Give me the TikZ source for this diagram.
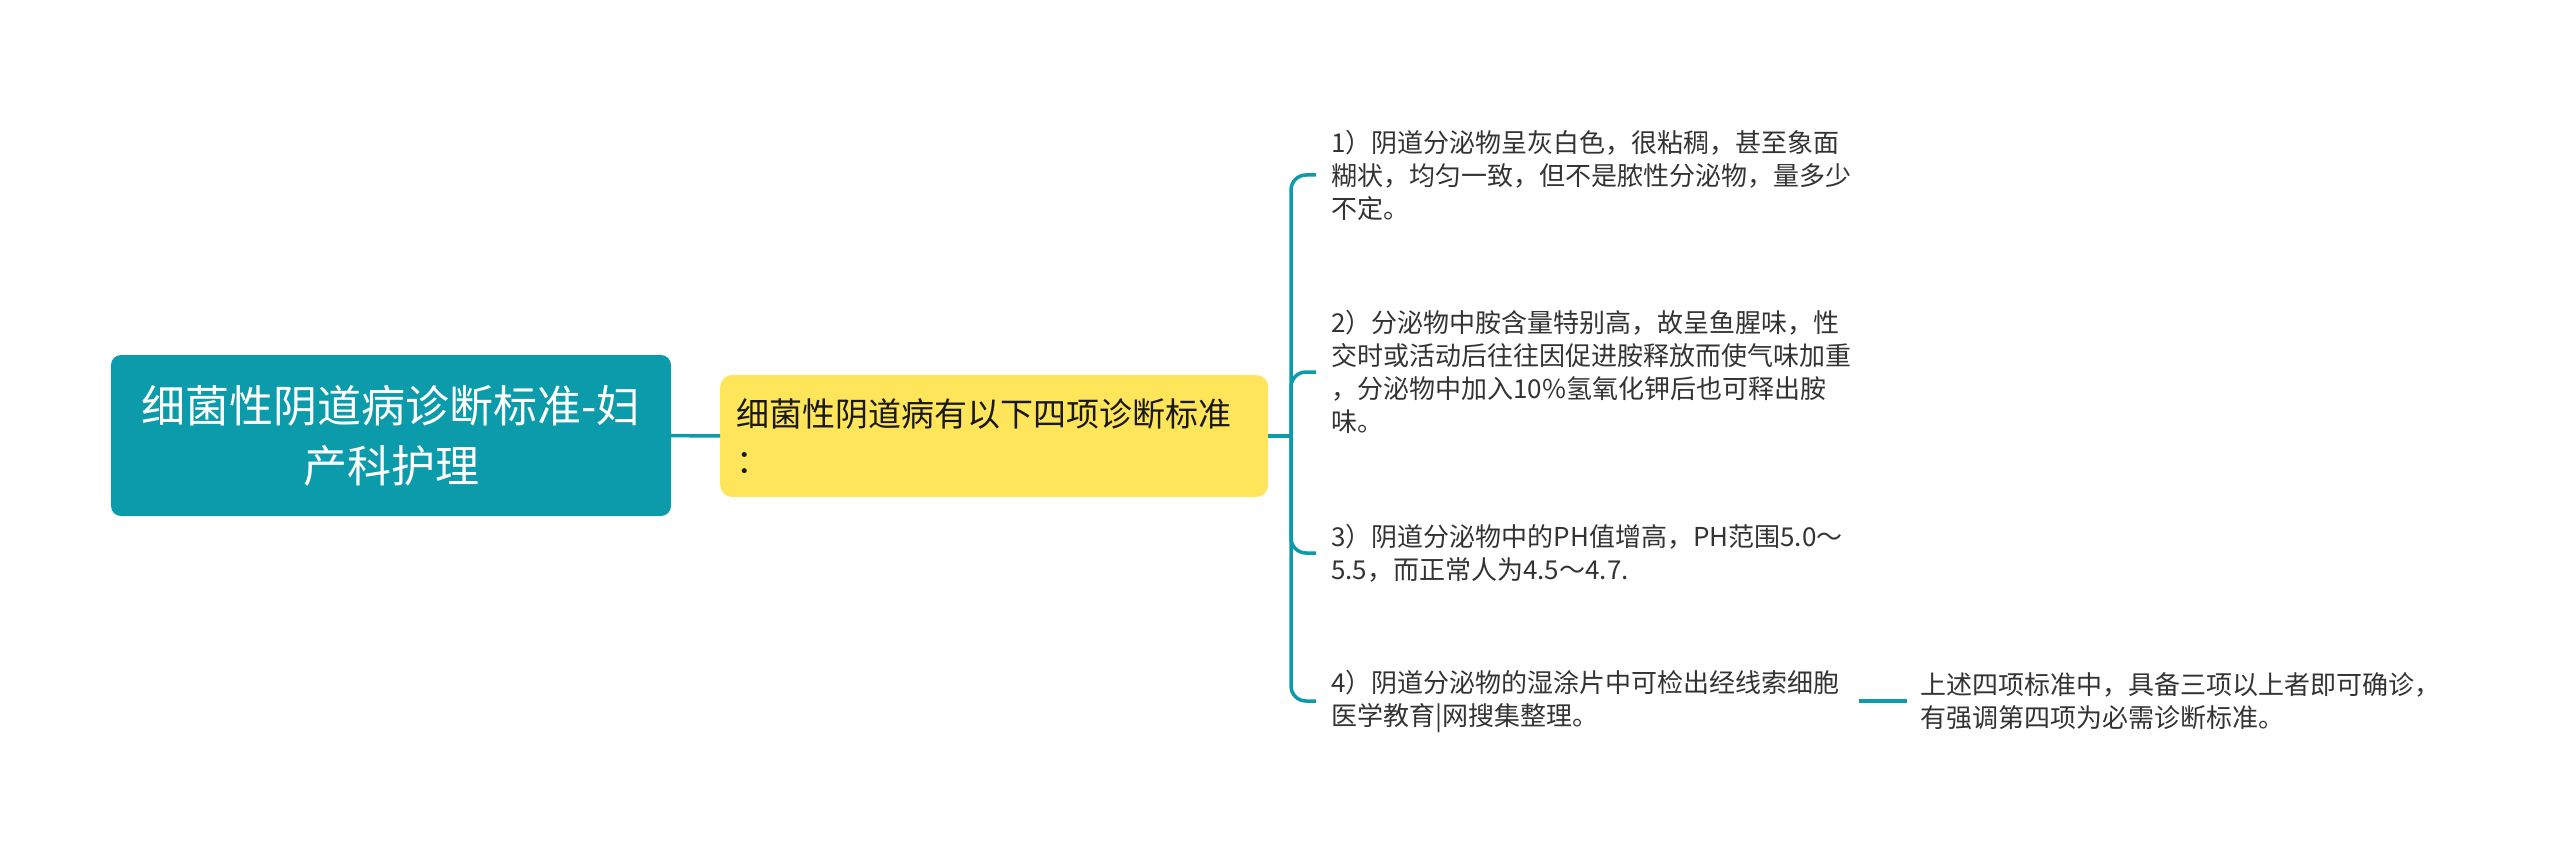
\documentclass[tikz,border=0pt]{standalone}
\usepackage{fontspec}
\setmainfont{Noto Sans CJK SC}
\usetikzlibrary{positioning}

\definecolor{tealline}{HTML}{0B9BAB}
\definecolor{subfill}{HTML}{FFE55A}
\definecolor{ink}{HTML}{333333}

\begin{document}
\begin{tikzpicture}
[
	              x = 1pt,
	              y = -1pt,
	    link/.style = { draw=tealline, line width=3.5pt },
	 rootbox/.style = { fill=tealline, rounded corners=10pt, text=white, align=center,
	                    minimum width=560pt, minimum height=161pt,
	                    font=\fontsize{44}{60}\selectfont },
	  subbox/.style = { fill=subfill, rounded corners=12pt, text=black!90, align=left,
	                    text width=516pt, inner xsep=16pt, minimum height=122pt,
	                    font=\fontsize{33}{47}\selectfont },
	    leaf/.style = { anchor=west, align=left, text width=528pt, inner sep=0pt,
	                    text=ink, font=\fontsize{26}{33}\selectfont }
]
	\useasboundingbox (0,0) rectangle (2560,856);

	\node (root) at (391,435.5) [rootbox]              {细菌性阴道病诊断标准-妇\\产科护理};
	\node (sub)  at (720,436)   [subbox, anchor=west]  {细菌性阴道病有以下四项诊断标准\\：};
	\coordinate (bus) at (1291,436);

	\node (c1) at (1331,175) [leaf] {1）阴道分泌物呈灰白色，很粘稠，甚至象面\\糊状，均匀一致，但不是脓性分泌物，量多少\\不定。};
	\node (c2) at (1331,372) [leaf] {2）分泌物中胺含量特别高，故呈鱼腥味，性\\交时或活动后往往因促进胺释放而使气味加重\\，分泌物中加入10\%氢氧化钾后也可释出胺\\味。};
	\node (c3) at (1331,553) [leaf] {3）阴道分泌物中的PH值增高，PH范围5.0～\\5.5，而正常人为4.5～4.7.};
	\node (c4) at (1331,701) [leaf] {4）阴道分泌物的湿涂片中可检出经线索细胞\\医学教育|网搜集整理。};
	\node (c5) at (1920,701) [leaf] {上述四项标准中，具备三项以上者即可确诊，\\有强调第四项为必需诊断标准。};

	\draw [link] (root) -- (sub);
	\draw [link] (sub) -- (bus);
	\foreach \n in {c1,c2,c3,c4}
		\draw [link, rounded corners=15pt] (bus) |- ([xshift=-15pt]\n.west);
	\draw [link] (c4.east) -- ([xshift=-13pt]c5.west);

\end{tikzpicture}
\end{document}
